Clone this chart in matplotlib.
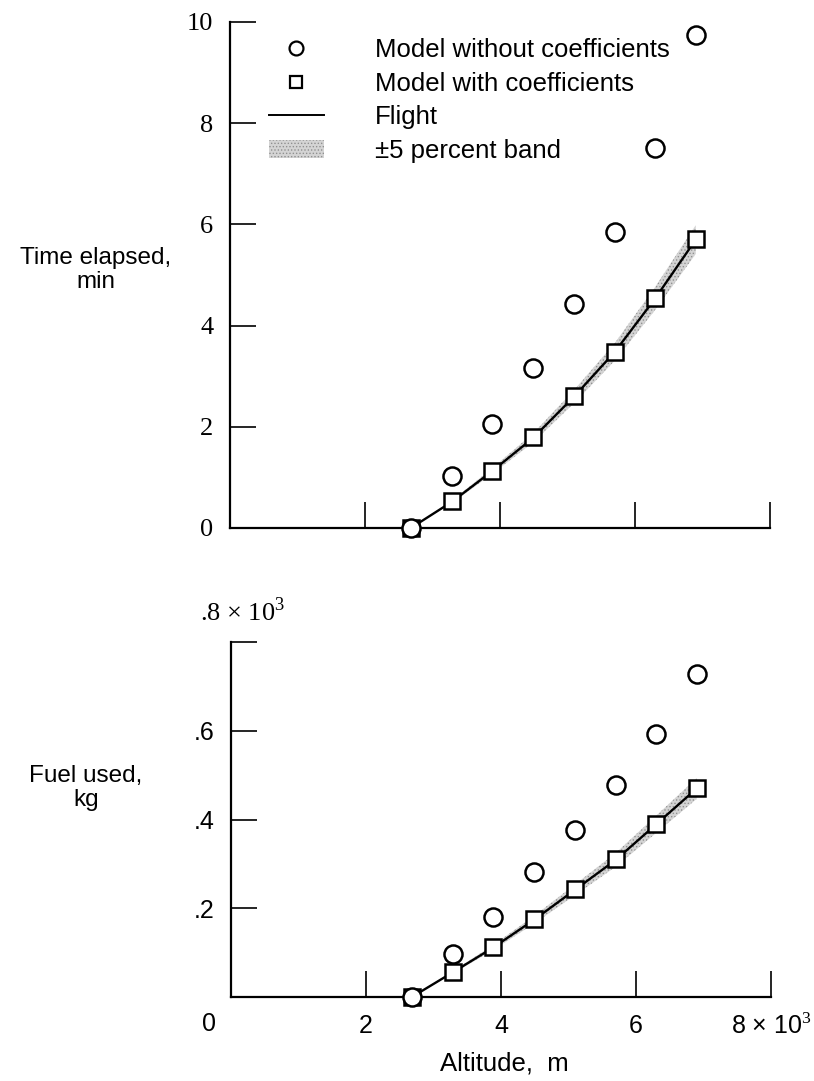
import matplotlib
matplotlib.use("Agg")
import matplotlib.pyplot as plt
from matplotlib import font_manager
from matplotlib.lines import Line2D
from matplotlib.patches import Patch

# altitude, 10^3 m
alt = [2.68, 3.29, 3.88, 4.49, 5.10, 5.70, 6.29, 6.90]

# time elapsed, min
time_without = [0, 1.03, 2.05, 3.16, 4.43, 5.85, 7.51, 9.74]
time_with = [0, 0.54, 1.13, 1.79, 2.61, 3.47, 4.54, 5.71]
time_flight = [0, 0.52, 1.12, 1.78, 2.60, 3.48, 4.52, 5.70]

# fuel used, 10^3 kg
fuel_without = [0, 0.096, 0.180, 0.281, 0.376, 0.478, 0.593, 0.727]
fuel_with = [0, 0.057, 0.112, 0.175, 0.243, 0.310, 0.389, 0.472]
fuel_flight = [0, 0.056, 0.111, 0.174, 0.242, 0.309, 0.388, 0.470]

top_yticks = [0, 2, 4, 6, 8, 10]
bot_yticks = [0.2, 0.4, 0.6, 0.8]
bot_yticklabels = ['.2', '.4', '.6', '']
xticks = [2, 4, 6, 8]

names = {f.name for f in font_manager.fontManager.ttflist}
sans = 'Liberation Sans Narrow' if 'Liberation Sans Narrow' in names else 'Liberation Sans'
serif = 'Liberation Serif'
plt.rcParams['font.family'] = [sans, 'DejaVu Sans']
plt.rcParams['mathtext.fontset'] = 'custom'
plt.rcParams['mathtext.rm'] = serif
plt.rcParams['hatch.linewidth'] = 0.6

W, H = 814, 1081
fig = plt.figure(figsize=(W / 100, H / 100), dpi=100)

def px_axes(x0, y0, x1, y1):
    return fig.add_axes([x0 / W, 1 - y1 / H, (x1 - x0) / W, (y1 - y0) / H])

ax1 = px_axes(230, 22, 770, 528)
ax2 = px_axes(231, 642, 771, 997)

band_kw = dict(facecolor='#d4d4d4', edgecolor='#909090', hatch='.....', lw=0, zorder=1)
mk = dict(color='black', markerfacecolor='white', markeredgewidth=1.8, linestyle='none',
          clip_on=False, zorder=4)

for ax, flight, w_out, w_in in [(ax1, time_flight, time_without, time_with),
                                (ax2, fuel_flight, fuel_without, fuel_with)]:
    lo = [v * 0.95 for v in flight]
    hi = [v * 1.05 for v in flight]
    ax.fill_between(alt, lo, hi, **band_kw)
    ax.plot(alt, flight, color='black', lw=1.7, zorder=2)
    ax.plot(alt, w_in, marker='s', markersize=12, **mk)
    ax.plot(alt, w_out, marker='o', markersize=13, **mk)
    for s in ['top', 'right']:
        ax.spines[s].set_visible(False)
    for s in ['left', 'bottom']:
        ax.spines[s].set_linewidth(1.6)
    ax.tick_params(direction='in', length=19, width=1.2, pad=12)
    ax.set_xlim(0, 8)
    ax.set_xticks(xticks)

ax1.set_ylim(0, 10)
ax1.set_yticks(top_yticks)
ax1.set_yticklabels([str(v) for v in top_yticks], family=serif, fontsize=19)
ax1.set_xticklabels([])

ax2.set_ylim(0, 0.8)
ax2.set_yticks(bot_yticks)
ax2.set_yticklabels(bot_yticklabels, fontsize=18)
ax2.set_xticklabels(['2', '4', '6', r'8 × 10$^3$'], fontsize=18)

fig.text(242 / W, 1 - 612 / H, r'.8 × 10$^3$', family=serif, fontsize=19,
         ha='center', va='center')
fig.text(209 / W, 1 - 1024 / H, '0', fontsize=18, ha='center', va='center')

fig.text(96 / W, 1 - 270 / H, 'Time elapsed,\nmin', fontsize=17.5, ha='center',
         va='center', multialignment='center', linespacing=1.15)
fig.text(86 / W, 1 - 788 / H, 'Fuel used,\nkg', fontsize=17.5, ha='center',
         va='center', multialignment='center', linespacing=1.15)
fig.text(504 / W, 1 - 1063 / H, 'Altitude,  m', fontsize=18.5, ha='center', va='center')

handles = [
    Line2D([], [], marker='o', markersize=10, color='black', markerfacecolor='white',
           markeredgewidth=1.6, linestyle='none'),
    Line2D([], [], marker='s', markersize=9, color='black', markerfacecolor='white',
           markeredgewidth=1.6, linestyle='none'),
    Line2D([], [], color='black', lw=1.4),
    Patch(**{k: v for k, v in band_kw.items() if k != 'zorder'}),
]
labels = ['Model without coefficients', 'Model with coefficients', 'Flight',
          '\u00b15 percent band']
ax1.legend(handles, labels, loc='upper left', bbox_to_anchor=(269 / W, 1 - 38 / H),
           bbox_transform=fig.transFigure, frameon=False, fontsize=18.5,
           handlelength=2.14, handletextpad=1.98, labelspacing=0.37, borderpad=0,
           borderaxespad=0, handleheight=0.7)

fig.savefig('out.png', dpi=100)
